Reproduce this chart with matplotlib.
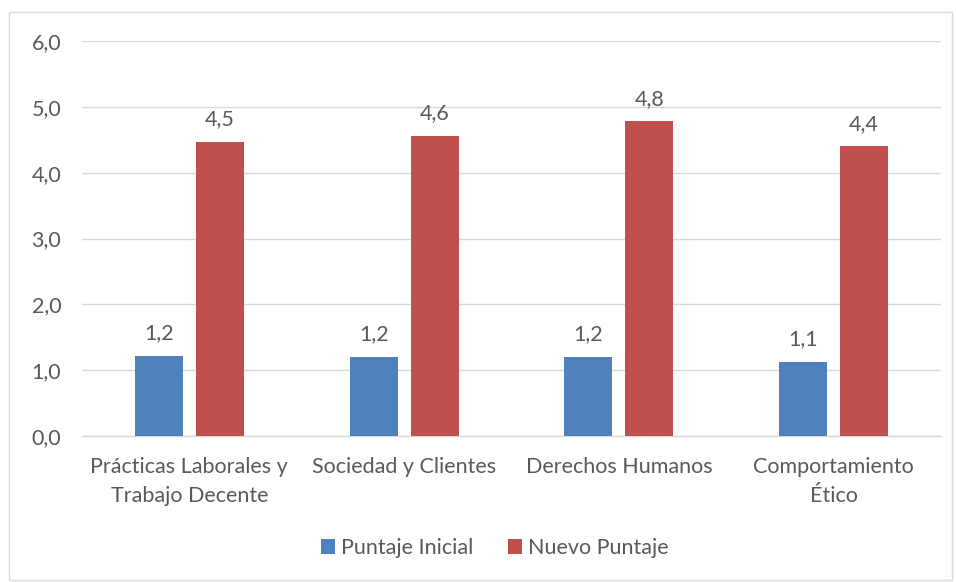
import matplotlib
matplotlib.use("Agg")
import matplotlib.pyplot as plt
from matplotlib.patches import Rectangle
import numpy as np

categories = ["Prácticas Laborales y\nTrabajo Decente", "Sociedad y Clientes",
              "Derechos Humanos", "Comportamiento\nÉtico"]
series_names = ["Puntaje Inicial", "Nuevo Puntaje"]
puntaje_inicial = [1.22, 1.20, 1.20, 1.13]
nuevo_puntaje = [4.47, 4.56, 4.78, 4.40]
y_ticks = [0, 1, 2, 3, 4, 5, 6]

blue = "#4F81BD"
red = "#C0504D"
text_gray = "#595959"
grid_gray = "#D9D9D9"
fs = 15.5

plt.rcParams["font.family"] = ["Lato", "DejaVu Sans"]

fig = plt.figure(figsize=(9.56, 5.82), dpi=100)
ax = fig.add_axes([82 / 956, 1 - 436 / 582, (941 - 82) / 956, (436 - 41) / 582])

x = np.arange(len(categories))
width = 0.224
offset = 0.142
b1 = ax.bar(x - offset, puntaje_inicial, width, color=blue, label=series_names[0], zorder=3)
b2 = ax.bar(x + offset, nuevo_puntaje, width, color=red, label=series_names[1], zorder=3)

def fmt(v):
    return f"{v:.1f}".replace(".", ",")

for bars, vals in ((b1, puntaje_inicial), (b2, nuevo_puntaje)):
    for rect, v in zip(bars, vals):
        ax.annotate(fmt(v), (rect.get_x() + rect.get_width() / 2, v),
                    xytext=(0, 9), textcoords="offset points",
                    ha="center", va="bottom", fontsize=fs, color=text_gray)

ax.set_xlim(-0.5, len(categories) - 0.5)
ax.set_ylim(0, 6)
ax.set_yticks(y_ticks)
ax.set_yticklabels([fmt(t) for t in y_ticks])
ax.set_xticks(x)
ax.set_xticklabels(categories, linespacing=1.6)
ax.tick_params(axis="both", length=0, colors=text_gray, labelsize=fs)
ax.tick_params(axis="y", pad=15)
ax.tick_params(axis="x", pad=15)
ax.yaxis.grid(True, color=grid_gray, linewidth=1, zorder=0)
for side in ("top", "right", "left"):
    ax.spines[side].set_visible(False)
ax.spines["bottom"].set_color(grid_gray)
ax.spines["bottom"].set_linewidth(1)

leg = fig.legend(handles=[b1, b2], labels=series_names, loc="center",
                 bbox_to_anchor=(495 / 956, 1 - 548 / 582), ncol=2, frameon=False,
                 fontsize=fs, handlelength=0.65, handleheight=0.65,
                 handletextpad=0.3, columnspacing=1.6)
for t in leg.get_texts():
    t.set_color(text_gray)

# light frame around the chart
fig.patches.append(Rectangle((9 / 956, 1 - 580 / 582), (952 - 9) / 956, (580 - 12) / 582,
                             transform=fig.transFigure, fill=False,
                             edgecolor="#D9D9D9", linewidth=1))

fig.savefig("out.png", dpi=100)
